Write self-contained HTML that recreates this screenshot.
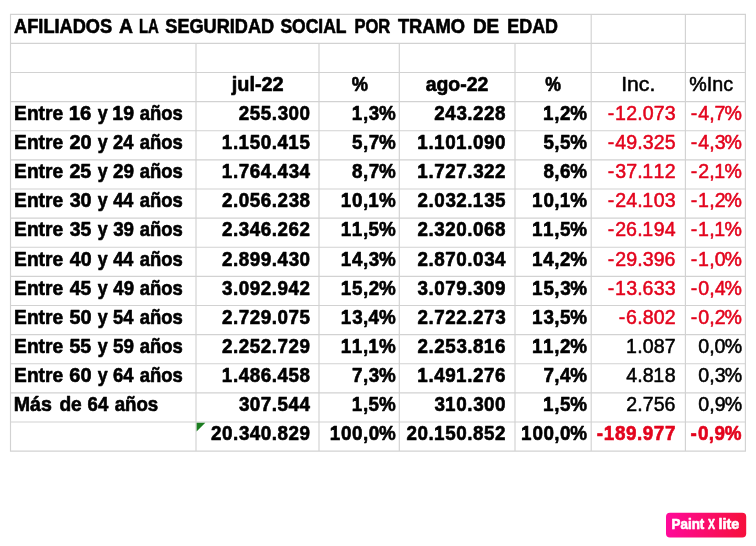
<!DOCTYPE html>
<html><head><meta charset="utf-8"><title>Afiliados</title>
<style>html,body{margin:0;padding:0;background:#fff;width:756px;height:546px;overflow:hidden}</style>
</head><body>
<svg width="756" height="546" viewBox="0 0 756 546" style="display:block;position:absolute;left:0;top:0;will-change:transform">
<rect x="0" y="0" width="756" height="546" fill="#ffffff"/>
<path d="M9.93 14.30H745.98M9.93 43.42H745.98M9.93 72.54H745.98M9.93 101.66H745.98M9.93 130.78H745.98M9.93 159.90H745.98M9.93 189.02H745.98M9.93 218.14H745.98M9.93 247.26H745.98M9.93 276.38H745.98M9.93 305.50H745.98M9.93 334.62H745.98M9.93 363.74H745.98M9.93 392.86H745.98M9.93 421.98H745.98M9.93 451.10H745.98M10.50 14.30V451.10M196.00 43.42V451.10M319.00 43.42V451.10M399.30 43.42V451.10M515.00 43.42V451.10M591.20 14.30V451.10M685.40 14.30V451.10M745.40 14.30V451.10" stroke="#d2d2d2" stroke-width="1.15" fill="none"/>
<g font-family="'Liberation Sans', sans-serif" font-size="19.2" font-weight="700" fill="#000000" stroke="#000000" stroke-width="0.6" stroke-linejoin="round" style="font-kerning:none">
<text transform="translate(14.05 32.55) scale(0.9488 1.050)">AFILIADOS</text>
<text transform="translate(119.12 32.55) scale(1.0092 1.050)">A</text>
<text transform="translate(139.00 32.55) scale(0.7772 1.050)">LA</text>
<text transform="translate(165.28 32.55) scale(0.9460 1.050)">SEGURIDAD</text>
<text transform="translate(280.40 32.55) scale(0.9119 1.050)">SOCIAL</text>
<text transform="translate(354.39 32.55) scale(0.8615 1.050)">POR</text>
<text transform="translate(397.89 32.55) scale(0.9558 1.050)">TRAMO</text>
<text transform="translate(472.93 32.55) scale(0.9863 1.050)">DE</text>
<text transform="translate(507.30 32.55) scale(0.9329 1.050)">EDAD</text>
<text transform="translate(231.71 90.79) scale(1.0367 1.050)">jul-22</text>
<text transform="translate(351.75 90.79) scale(0.9510 1.030)">%</text>
<text transform="translate(425.63 90.79) scale(1.0123 1.050)">ago-22</text>
<text transform="translate(545.36 90.79) scale(0.9200 1.030)">%</text>
<text transform="translate(14.12 119.91) scale(0.9992 1.030)">Entre</text>
<text transform="translate(68.82 119.91) scale(1.0590 1.075)">16</text>
<text transform="translate(97.66 119.91) scale(0.9305 1.030)">y</text>
<text transform="translate(112.37 119.91) scale(1.0137 1.075)">19</text>
<text transform="translate(139.76 119.91) scale(0.9617 1.030)">años</text>
<text transform="translate(14.12 149.03) scale(0.9992 1.030)">Entre</text>
<text transform="translate(69.41 149.03) scale(1.0350 1.075)">20</text>
<text transform="translate(97.66 149.03) scale(0.9305 1.030)">y</text>
<text transform="translate(112.96 149.03) scale(0.9569 1.075)">24</text>
<text transform="translate(139.76 149.03) scale(0.9617 1.030)">años</text>
<text transform="translate(14.12 178.15) scale(0.9992 1.030)">Entre</text>
<text transform="translate(69.42 178.15) scale(1.0220 1.075)">25</text>
<text transform="translate(97.66 178.15) scale(0.9305 1.030)">y</text>
<text transform="translate(112.94 178.15) scale(0.9861 1.075)">29</text>
<text transform="translate(139.76 178.15) scale(0.9617 1.030)">años</text>
<text transform="translate(14.12 207.27) scale(0.9992 1.030)">Entre</text>
<text transform="translate(69.65 207.27) scale(1.0234 1.075)">30</text>
<text transform="translate(97.66 207.27) scale(0.9305 1.030)">y</text>
<text transform="translate(113.33 207.27) scale(0.9398 1.075)">44</text>
<text transform="translate(139.76 207.27) scale(0.9617 1.030)">años</text>
<text transform="translate(14.12 236.39) scale(0.9992 1.030)">Entre</text>
<text transform="translate(69.65 236.39) scale(1.0107 1.075)">35</text>
<text transform="translate(97.66 236.39) scale(0.9305 1.030)">y</text>
<text transform="translate(113.17 236.39) scale(0.9751 1.075)">39</text>
<text transform="translate(139.76 236.39) scale(0.9617 1.030)">años</text>
<text transform="translate(14.12 265.51) scale(0.9992 1.030)">Entre</text>
<text transform="translate(69.80 265.51) scale(1.0159 1.075)">40</text>
<text transform="translate(97.66 265.51) scale(0.9305 1.030)">y</text>
<text transform="translate(113.33 265.51) scale(0.9398 1.075)">44</text>
<text transform="translate(139.76 265.51) scale(0.9617 1.030)">años</text>
<text transform="translate(14.12 294.63) scale(0.9992 1.030)">Entre</text>
<text transform="translate(69.81 294.63) scale(1.0033 1.075)">45</text>
<text transform="translate(97.66 294.63) scale(0.9305 1.030)">y</text>
<text transform="translate(113.32 294.63) scale(0.9679 1.075)">49</text>
<text transform="translate(139.76 294.63) scale(0.9617 1.030)">años</text>
<text transform="translate(14.12 323.75) scale(0.9992 1.030)">Entre</text>
<text transform="translate(69.49 323.75) scale(1.0311 1.075)">50</text>
<text transform="translate(97.66 323.75) scale(0.9305 1.030)">y</text>
<text transform="translate(113.04 323.75) scale(0.9534 1.075)">54</text>
<text transform="translate(139.76 323.75) scale(0.9617 1.030)">años</text>
<text transform="translate(14.12 352.87) scale(0.9992 1.030)">Entre</text>
<text transform="translate(69.50 352.87) scale(1.0182 1.075)">55</text>
<text transform="translate(97.66 352.87) scale(0.9305 1.030)">y</text>
<text transform="translate(113.02 352.87) scale(0.9824 1.075)">59</text>
<text transform="translate(139.76 352.87) scale(0.9617 1.030)">años</text>
<text transform="translate(14.12 381.99) scale(0.9992 1.030)">Entre</text>
<text transform="translate(69.37 381.99) scale(1.0370 1.075)">60</text>
<text transform="translate(97.66 381.99) scale(0.9305 1.030)">y</text>
<text transform="translate(112.93 381.99) scale(0.9586 1.075)">64</text>
<text transform="translate(139.76 381.99) scale(0.9617 1.030)">años</text>
<text transform="translate(13.79 411.11) scale(1.0205 1.030)">Más</text>
<text transform="translate(59.41 411.11) scale(0.9970 1.030)">de</text>
<text transform="translate(87.62 411.11) scale(0.9684 1.075)">64</text>
<text transform="translate(114.65 411.11) scale(0.9733 1.030)">años</text>
<text transform="translate(238.81 119.91) scale(0.9800 1.075)" x="0.00 11.15 22.37 33.65 39.67 50.78 62.01">255.300</text>
<text transform="translate(351.72 119.91) scale(0.9800 1.075)" x="0.00 11.47 17.40 27.78">1,3%</text>
<text transform="translate(434.31 119.91) scale(0.9800 1.075)" x="0.00 11.08 22.53 33.65 39.59 50.82 61.98">243.228</text>
<text transform="translate(543.12 119.91) scale(0.9800 1.075)" x="0.00 11.47 17.33 27.78">1,2%</text>
<text transform="translate(221.64 149.03) scale(0.9800 1.075)" x="0.00 11.59 17.14 28.67 39.94 51.18 56.97 67.96 79.49">1.150.415</text>
<text transform="translate(352.02 149.03) scale(0.9800 1.075)" x="0.00 11.16 16.98 27.47">5,7%</text>
<text transform="translate(417.14 149.03) scale(0.9800 1.075)" x="0.00 11.59 17.14 28.72 39.59 51.18 57.08 68.32 79.53">1.101.090</text>
<text transform="translate(543.42 149.03) scale(0.9800 1.075)" x="0.00 11.16 16.94 27.47">5,5%</text>
<text transform="translate(221.64 178.15) scale(0.9800 1.075)" x="0.00 11.59 17.49 28.70 39.84 51.18 56.97 68.42 79.43">1.764.434</text>
<text transform="translate(352.04 178.15) scale(0.9800 1.075)" x="0.00 11.14 16.96 27.45">8,7%</text>
<text transform="translate(417.14 178.15) scale(0.9800 1.075)" x="0.00 11.59 17.49 28.75 39.94 51.18 57.19 68.35 79.57">1.727.322</text>
<text transform="translate(543.44 178.15) scale(0.9800 1.075)" x="0.00 11.14 16.94 27.45">8,6%</text>
<text transform="translate(222.02 207.27) scale(0.9800 1.075)" x="0.00 11.20 17.10 28.29 39.54 50.79 56.73 68.03 79.12">2.056.238</text>
<text transform="translate(340.71 207.27) scale(0.9800 1.075)" x="0.00 11.58 22.70 28.17 39.00">10,1%</text>
<text transform="translate(417.52 207.27) scale(0.9800 1.075)" x="0.00 11.20 17.10 28.44 39.59 50.79 56.34 68.03 79.10">2.032.135</text>
<text transform="translate(532.11 207.27) scale(0.9800 1.075)" x="0.00 11.58 22.70 28.17 39.00">10,1%</text>
<text transform="translate(222.02 236.39) scale(0.9800 1.075)" x="0.00 11.20 17.21 28.22 39.54 50.79 56.73 67.90 79.18">2.346.262</text>
<text transform="translate(340.71 236.39) scale(0.9800 1.075)" x="0.00 11.23 22.70 28.48 39.00">11,5%</text>
<text transform="translate(417.52 236.39) scale(0.9800 1.075)" x="0.00 11.20 17.21 28.36 39.55 50.79 56.69 67.90 79.12">2.320.068</text>
<text transform="translate(532.11 236.39) scale(0.9800 1.075)" x="0.00 11.23 22.70 28.48 39.00">11,5%</text>
<text transform="translate(222.02 265.51) scale(0.9800 1.075)" x="0.00 11.20 17.08 28.34 39.56 50.79 56.58 68.03 79.15">2.899.430</text>
<text transform="translate(340.71 265.51) scale(0.9800 1.075)" x="0.00 11.47 22.70 28.63 39.00">14,3%</text>
<text transform="translate(417.52 265.51) scale(0.9800 1.075)" x="0.00 11.20 17.08 28.32 39.55 50.79 56.69 68.03 79.04">2.870.034</text>
<text transform="translate(532.11 265.51) scale(0.9800 1.075)" x="0.00 11.47 22.70 28.55 39.00">14,2%</text>
<text transform="translate(222.09 294.63) scale(0.9800 1.075)" x="0.00 11.12 17.03 28.26 39.52 50.72 56.63 67.74 79.11">3.092.942</text>
<text transform="translate(340.71 294.63) scale(0.9800 1.075)" x="0.00 11.54 22.70 28.55 39.00">15,2%</text>
<text transform="translate(417.59 294.63) scale(0.9800 1.075)" x="0.00 11.12 17.03 28.25 39.49 50.72 56.73 67.84 79.08">3.079.309</text>
<text transform="translate(532.11 294.63) scale(0.9800 1.075)" x="0.00 11.54 22.70 28.63 39.00">15,3%</text>
<text transform="translate(222.02 323.75) scale(0.9800 1.075)" x="0.00 11.20 17.10 28.37 39.56 50.79 56.69 67.91 79.10">2.729.075</text>
<text transform="translate(340.71 323.75) scale(0.9800 1.075)" x="0.00 11.69 22.70 28.41 39.00">13,4%</text>
<text transform="translate(417.52 323.75) scale(0.9800 1.075)" x="0.00 11.20 17.10 28.36 39.59 50.79 56.73 67.91 79.26">2.722.273</text>
<text transform="translate(532.11 323.75) scale(0.9800 1.075)" x="0.00 11.69 22.70 28.48 39.00">13,5%</text>
<text transform="translate(222.02 352.87) scale(0.9800 1.075)" x="0.00 11.20 17.14 28.29 39.59 50.79 56.69 67.96 79.15">2.252.729</text>
<text transform="translate(340.71 352.87) scale(0.9800 1.075)" x="0.00 11.23 22.70 28.17 39.00">11,1%</text>
<text transform="translate(417.52 352.87) scale(0.9800 1.075)" x="0.00 11.20 17.14 28.29 39.67 50.79 56.67 67.57 79.13">2.253.816</text>
<text transform="translate(532.11 352.87) scale(0.9800 1.075)" x="0.00 11.23 22.70 28.55 39.00">11,2%</text>
<text transform="translate(221.64 381.99) scale(0.9800 1.075)" x="0.00 11.59 17.38 28.69 39.92 51.18 56.97 68.27 79.51">1.486.458</text>
<text transform="translate(352.06 381.99) scale(0.9800 1.075)" x="0.00 11.12 17.06 27.43">7,3%</text>
<text transform="translate(417.14 381.99) scale(0.9800 1.075)" x="0.00 11.59 17.38 28.73 39.59 51.18 57.12 68.30 79.52">1.491.276</text>
<text transform="translate(543.46 381.99) scale(0.9800 1.075)" x="0.00 11.12 16.84 27.43">7,4%</text>
<text transform="translate(238.89 411.11) scale(0.9800 1.075)" x="0.00 11.11 22.34 33.58 39.44 50.60 61.82">307.544</text>
<text transform="translate(351.72 411.11) scale(0.9800 1.075)" x="0.00 11.47 17.25 27.78">1,5%</text>
<text transform="translate(434.39 411.11) scale(0.9800 1.075)" x="0.00 10.76 22.34 33.58 39.59 50.71 61.93">310.300</text>
<text transform="translate(543.12 411.11) scale(0.9800 1.075)" x="0.00 11.47 17.25 27.78">1,5%</text>
<text transform="translate(211.02 440.23) scale(0.9800 1.075)" x="0.00 11.19 22.43 28.44 39.45 50.78 62.02 67.90 79.18 90.38">20.340.829</text>
<text transform="translate(329.71 440.23) scale(0.9800 1.075)" x="0.00 11.58 22.80 33.92 39.74 50.23">100,0%</text>
<text transform="translate(406.52 440.23) scale(0.9800 1.075)" x="0.00 11.19 22.43 27.98 39.51 50.78 62.02 67.90 79.10 90.41">20.150.852</text>
<text transform="translate(521.11 440.23) scale(0.9800 1.075)" x="0.00 11.58 22.80 33.92 39.74 50.23">100,0%</text>
</g>
<g font-family="'Liberation Sans', sans-serif" font-size="19.2" font-weight="700" fill="#e3041d" stroke="#e3041d" stroke-width="0.6" stroke-linejoin="round" style="font-kerning:none">
<text transform="translate(596.65 440.23) scale(0.9800 1.075)" x="0.00 7.23 18.78 30.04 41.27 47.18 58.39 69.62">-189.977</text>
<text transform="translate(690.53 440.23) scale(0.9800 1.075)" x="0.00 7.58 18.70 24.53 35.00">-0,9%</text>
</g>
<g font-family="'Liberation Sans', sans-serif" font-size="19.2" font-weight="400" fill="#000000" stroke="#000000" stroke-width="0.5" stroke-linejoin="round" style="font-kerning:none">
<text transform="translate(621.20 90.79) scale(1.1013 1.030)">Inc.</text>
<text transform="translate(689.35 90.79) scale(1.0267 1.030)">%Inc</text>
<text transform="translate(625.91 352.87) scale(1.0200 1.075)" x="0.00 11.01 16.41 27.20 37.97">1.087</text>
<text transform="translate(698.21 352.87) scale(1.0200 1.075)" x="0.00 10.72 16.10 25.91">0,0%</text>
<text transform="translate(626.24 381.99) scale(1.0200 1.075)" x="0.00 10.68 16.09 26.61 37.66">4.818</text>
<text transform="translate(698.21 381.99) scale(1.0200 1.075)" x="0.00 10.72 16.16 25.91">0,3%</text>
<text transform="translate(626.18 411.11) scale(1.0200 1.075)" x="0.00 10.75 16.14 26.95 37.65">2.756</text>
<text transform="translate(698.21 411.11) scale(1.0200 1.075)" x="0.00 10.72 16.11 25.91">0,9%</text>
</g>
<g font-family="'Liberation Sans', sans-serif" font-size="19.2" font-weight="400" fill="#e3041d" stroke="#e3041d" stroke-width="0.5" stroke-linejoin="round" style="font-kerning:none">
<text transform="translate(607.84 119.91) scale(1.0200 1.075)" x="0.00 6.93 17.98 28.72 34.13 44.90 55.75">-12.073</text>
<text transform="translate(690.87 119.91) scale(1.0200 1.075)" x="0.00 7.25 17.92 23.29 33.10">-4,7%</text>
<text transform="translate(607.84 149.03) scale(1.0200 1.075)" x="0.00 7.25 17.98 28.72 34.18 44.91 55.72">-49.325</text>
<text transform="translate(690.87 149.03) scale(1.0200 1.075)" x="0.00 7.25 17.92 23.35 33.10">-4,3%</text>
<text transform="translate(607.84 178.15) scale(1.0200 1.075)" x="0.00 7.25 17.97 28.72 33.86 44.65 55.70">-37.112</text>
<text transform="translate(690.87 178.15) scale(1.0200 1.075)" x="0.00 7.19 17.92 23.03 33.10">-2,1%</text>
<text transform="translate(607.84 207.27) scale(1.0200 1.075)" x="0.00 7.19 18.04 28.72 33.86 44.91 55.75">-24.103</text>
<text transform="translate(690.87 207.27) scale(1.0200 1.075)" x="0.00 6.93 17.92 23.30 33.10">-1,2%</text>
<text transform="translate(607.84 236.39) scale(1.0200 1.075)" x="0.00 7.19 17.91 28.72 33.86 44.92 55.76">-26.194</text>
<text transform="translate(690.87 236.39) scale(1.0200 1.075)" x="0.00 6.93 17.92 23.03 33.10">-1,1%</text>
<text transform="translate(607.84 265.51) scale(1.0200 1.075)" x="0.00 7.19 17.98 28.72 34.18 44.92 55.63">-29.396</text>
<text transform="translate(690.87 265.51) scale(1.0200 1.075)" x="0.00 6.93 17.92 23.30 33.10">-1,0%</text>
<text transform="translate(607.84 294.63) scale(1.0200 1.075)" x="0.00 6.93 18.03 28.72 34.06 44.97 55.75">-13.633</text>
<text transform="translate(690.87 294.63) scale(1.0200 1.075)" x="0.00 7.19 17.92 23.36 33.10">-0,4%</text>
<text transform="translate(618.84 323.75) scale(1.0200 1.075)" x="0.00 7.13 17.94 23.34 34.13 44.91">-6.802</text>
<text transform="translate(690.87 323.75) scale(1.0200 1.075)" x="0.00 7.19 17.92 23.30 33.10">-0,2%</text>
</g>
<path d="M196.6 422.7H205.3L196.6 431.4Z" fill="#1c7d20"/>
<defs><linearGradient id="pg" x1="0" y1="0" x2="1" y2="0"><stop offset="0" stop-color="#ff0a9a"/><stop offset="1" stop-color="#f6103c"/></linearGradient></defs>
<rect x="666.0" y="512.7" width="80.2" height="24.8" rx="4" fill="url(#pg)"/>
<g font-family="'Liberation Sans', sans-serif" font-weight="700" fill="#ffffff" stroke="#ffffff" stroke-width="0.6" stroke-linejoin="round" font-size="13.8" style="font-kerning:none">
<text transform="translate(671.61 529.3) scale(0.9679 1)">Paint</text>
<text transform="translate(708.01 529.3) scale(0.7588 1)">X</text>
<text transform="translate(718.49 529.3) scale(1.0431 1)">lite</text>
</g>
</svg>
</body></html>
